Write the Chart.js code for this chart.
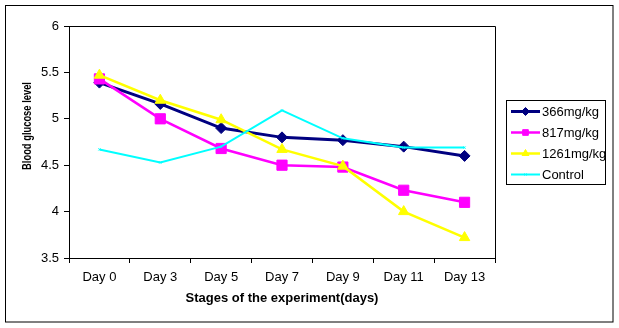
<!DOCTYPE html>
<html>
<head>
<meta charset="utf-8">
<script src="https://cdn.jsdelivr.net/npm/chart.js@4"></script>
<style>
  html, body { margin: 0; padding: 0; background: #fff; }
  #wrap { width: 619px; height: 328px; }
</style>
</head>
<body>
<div id="wrap"><canvas id="chart" width="619" height="328"></canvas></div>
<script>
// Dados
const days = ['Day 0', 'Day 3', 'Day 5', 'Day 7', 'Day 9', 'Day 11', 'Day 13'];
const dose366 = [5.39, 5.16, 4.90, 4.80, 4.77, 4.70, 4.60];
const dose817 = [5.43, 5.00, 4.68, 4.50, 4.48, 4.23, 4.10];
const dose1261 = [5.47, 5.20, 4.99, 4.67, 4.49, 4.00, 3.72];
const control = [4.67, 4.53, 4.70, 5.09, 4.79, 4.69, 4.69];
const seriesNames = ['366mg/kg', '817mg/kg', '1261mg/kg', 'Control'];

const yTitle = 'Blood glucose level';
const xTitle = 'Stages of the experiment(days)';
const FONT = '"Liberation Sans", Arial, sans-serif';

// Cria um dataset de linha
function makeSeries(label, data, color, style, radius, width, order) {
  return {
    label, data,
    borderColor: color,
    backgroundColor: color,
    pointBackgroundColor: color,
    pointBorderColor: color,
    pointStyle: style,
    pointRadius: radius,
    pointBorderWidth: 1,
    borderWidth: width,
    tension: 0,
    order
  };
}

// Moldura, títulos e legenda desenhados à mão
const decorations = {
  id: 'decorations',
  afterDraw(chart) {
    const ctx = chart.ctx;
    const a = chart.chartArea;
    ctx.save();
    ctx.strokeStyle = '#000';
    ctx.lineWidth = 1;
    // moldura exterior
    ctx.strokeRect(5.5, 5.5, 607.5, 316.5);
    // topo e lado direito da área do gráfico
    ctx.beginPath();
    ctx.moveTo(a.left, a.top + 0.5);
    ctx.lineTo(a.right + 0.5, a.top + 0.5);
    ctx.lineTo(a.right + 0.5, a.bottom);
    ctx.stroke();

    // título do eixo y
    ctx.fillStyle = '#000';
    ctx.font = 'bold 13px ' + FONT;
    ctx.textAlign = 'center';
    ctx.textBaseline = 'middle';
    ctx.save();
    ctx.translate(27, 126);
    ctx.rotate(-Math.PI / 2);
    ctx.scale(0.72, 1);
    ctx.fillText(yTitle, 0, 0);
    ctx.restore();

    // título do eixo x
    ctx.fillText(xTitle, (a.left + a.right) / 2, 298);

    // legenda
    ctx.strokeRect(506.5, 100.5, 99, 84);
    const rows = [111.5, 132.5, 153.5, 174.5];
    ctx.font = '13px ' + FONT;
    ctx.textAlign = 'left';
    chart.data.datasets.forEach((ds, i) => {
      const y = rows[i];
      ctx.strokeStyle = ds.borderColor;
      ctx.lineWidth = ds.borderWidth;
      ctx.beginPath();
      ctx.moveTo(511, y);
      ctx.lineTo(540, y);
      ctx.stroke();
      ctx.fillStyle = ds.backgroundColor;
      ctx.lineWidth = 1;
      Chart.helpers.drawPoint(ctx, {
        pointStyle: ds.pointStyle,
        rotation: 0,
        borderWidth: 1,
        radius: ds.pointStyle === 'crossRot' ? 1.5 : 4
      }, 525.5, y);
      ctx.fillStyle = '#000';
      ctx.fillText(seriesNames[i], 542, y + 1);
    });
    ctx.restore();
  }
};

new Chart(document.getElementById('chart'), {
  type: 'line',
  data: {
    labels: days,
    datasets: [
      makeSeries(seriesNames[0], dose366, '#000080', 'rectRot', 5.5, 3, 4),
      makeSeries(seriesNames[1], dose817, '#FF00FF', 'rect', 7.2, 2.5, 3),
      makeSeries(seriesNames[2], dose1261, '#FFFF00', 'triangle', 6, 2.5, 2),
      makeSeries(seriesNames[3], control, '#00FFFF', 'crossRot', 1.5, 2, 1)
    ]
  },
  options: {
    responsive: false,
    animation: false,
    layout: { padding: { left: 0, top: 26, right: 124, bottom: 0 } },
    plugins: {
      legend: { display: false },
      tooltip: { enabled: false }
    },
    scales: {
      x: {
        offset: true,
        grid: { offset: true, drawOnChartArea: false, color: '#000', tickLength: 5 },
        border: { display: true, color: '#000', width: 1 },
        ticks: { color: '#000', font: { family: FONT, size: 13 }, padding: 7, maxRotation: 0, autoSkip: false },
        afterFit(scale) { scale.height = 70; }
      },
      y: {
        min: 3.5,
        max: 6,
        grid: { drawOnChartArea: false, color: '#000', tickLength: 5 },
        border: { display: true, color: '#000', width: 1 },
        ticks: {
          stepSize: 0.5, color: '#000', font: { family: FONT, size: 13 }, padding: 5,
          callback: value => String(Math.round(value * 10) / 10)
        },
        afterFit(scale) { scale.width = 69; }
      }
    }
  },
  plugins: [decorations]
});
</script>
</body>
</html>
